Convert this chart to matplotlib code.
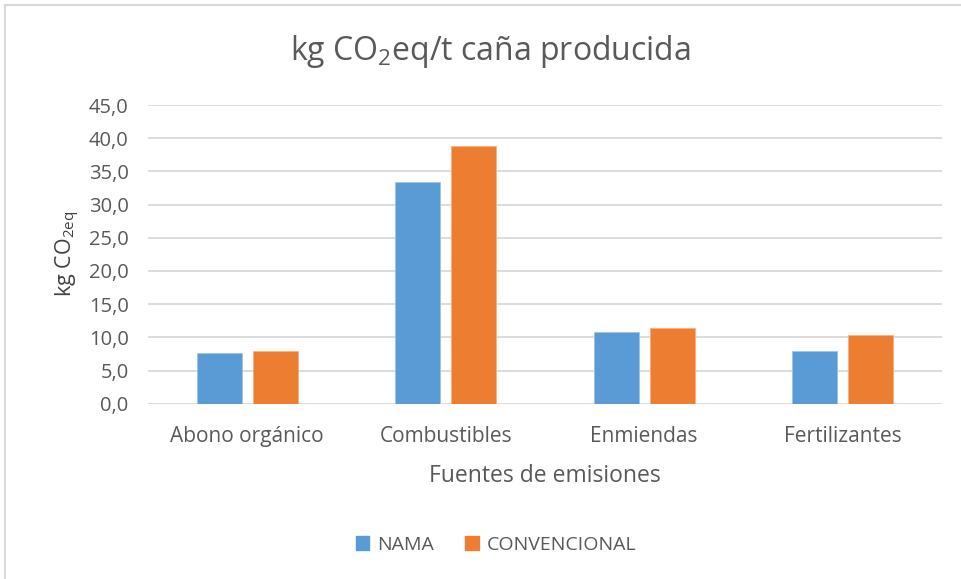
import matplotlib
matplotlib.use("Agg")
import matplotlib.pyplot as plt
import numpy as np
from matplotlib.lines import Line2D

categories = ["Abono orgánico", "Combustibles", "Enmiendas", "Fertilizantes"]
nama = [7.7, 33.4, 10.8, 8.0]
convencional = [8.0, 38.8, 11.4, 10.4]
series_names = ["NAMA", "CONVENCIONAL"]
yticks = [0, 5, 10, 15, 20, 25, 30, 35, 40, 45]

FONT = "Open Sans"
plt.rcParams['font.family'] = [FONT, 'DejaVu Sans']
plt.rcParams['mathtext.fontset'] = 'custom'
plt.rcParams['mathtext.rm'] = FONT
plt.rcParams['mathtext.it'] = FONT
plt.rcParams['mathtext.bf'] = FONT
TXT = "#595959"
BLUE = "#5b9bd5"
ORANGE = "#ed7d31"

fig = plt.figure(figsize=(9.61, 5.79), dpi=100)
ax = fig.add_axes([148/961, 1-403.7/579, (942-148)/961, (403.7-105)/579])

x = np.arange(len(categories))
w = 0.227
off = 0.141
ax.bar(x - off, nama, width=w, color=BLUE, edgecolor="#9dc3e6", linewidth=0.6, label=series_names[0], zorder=3)
ax.bar(x + off, convencional, width=w, color=ORANGE, edgecolor="#f4b183", linewidth=0.6, label=series_names[1], zorder=3)

ax.set_xlim(-0.5, len(categories) - 0.5)
ax.set_ylim(0, 45)
ax.set_yticks(yticks)
ax.set_yticklabels([f"{v:.1f}".replace(".", ",") for v in yticks], color=TXT, fontsize=14.5)
ax.set_xticks(x)
ax.set_xticklabels(categories, color=TXT, fontsize=15)
ax.tick_params(axis='both', length=0)
ax.tick_params(axis='y', pad=14)
ax.tick_params(axis='x', pad=16)
ax.grid(axis='y', color="#d9d9d9", linewidth=1.3, zorder=0)
for s in ax.spines.values():
    s.set_visible(False)

ax.set_xlabel("Fuentes de emisiones", color=TXT, fontsize=16.5, labelpad=12)
ax.set_ylabel(r"kg CO$_{\mathrm{2eq}}$", color="#404040", fontsize=15.5, labelpad=5)

fig.text(490/961, 1 - 52/579, r"kg CO$_2$eq/t caña producida", ha='center', va='center',
         fontsize=23, color=TXT)

handles = [plt.Rectangle((0, 0), 1, 1, color=BLUE), plt.Rectangle((0, 0), 1, 1, color=ORANGE)]
fig.legend(handles, series_names, loc='center', bbox_to_anchor=(496/961, 1 - 545/579), ncol=2,
           frameon=False, fontsize=14, labelcolor=TXT, handlelength=0.7, handleheight=0.7,
           handletextpad=0.4, columnspacing=1.6)

# chart frame (left and top edges visible)
fig.add_artist(Line2D([5/961, 5/961], [0, 1 - 5/579], color="#d9d9d9", linewidth=1.5, transform=fig.transFigure))
fig.add_artist(Line2D([5/961, 1], [1 - 5/579, 1 - 5/579], color="#d9d9d9", linewidth=1.5, transform=fig.transFigure))

fig.savefig("out.png", dpi=100, facecolor="white")
